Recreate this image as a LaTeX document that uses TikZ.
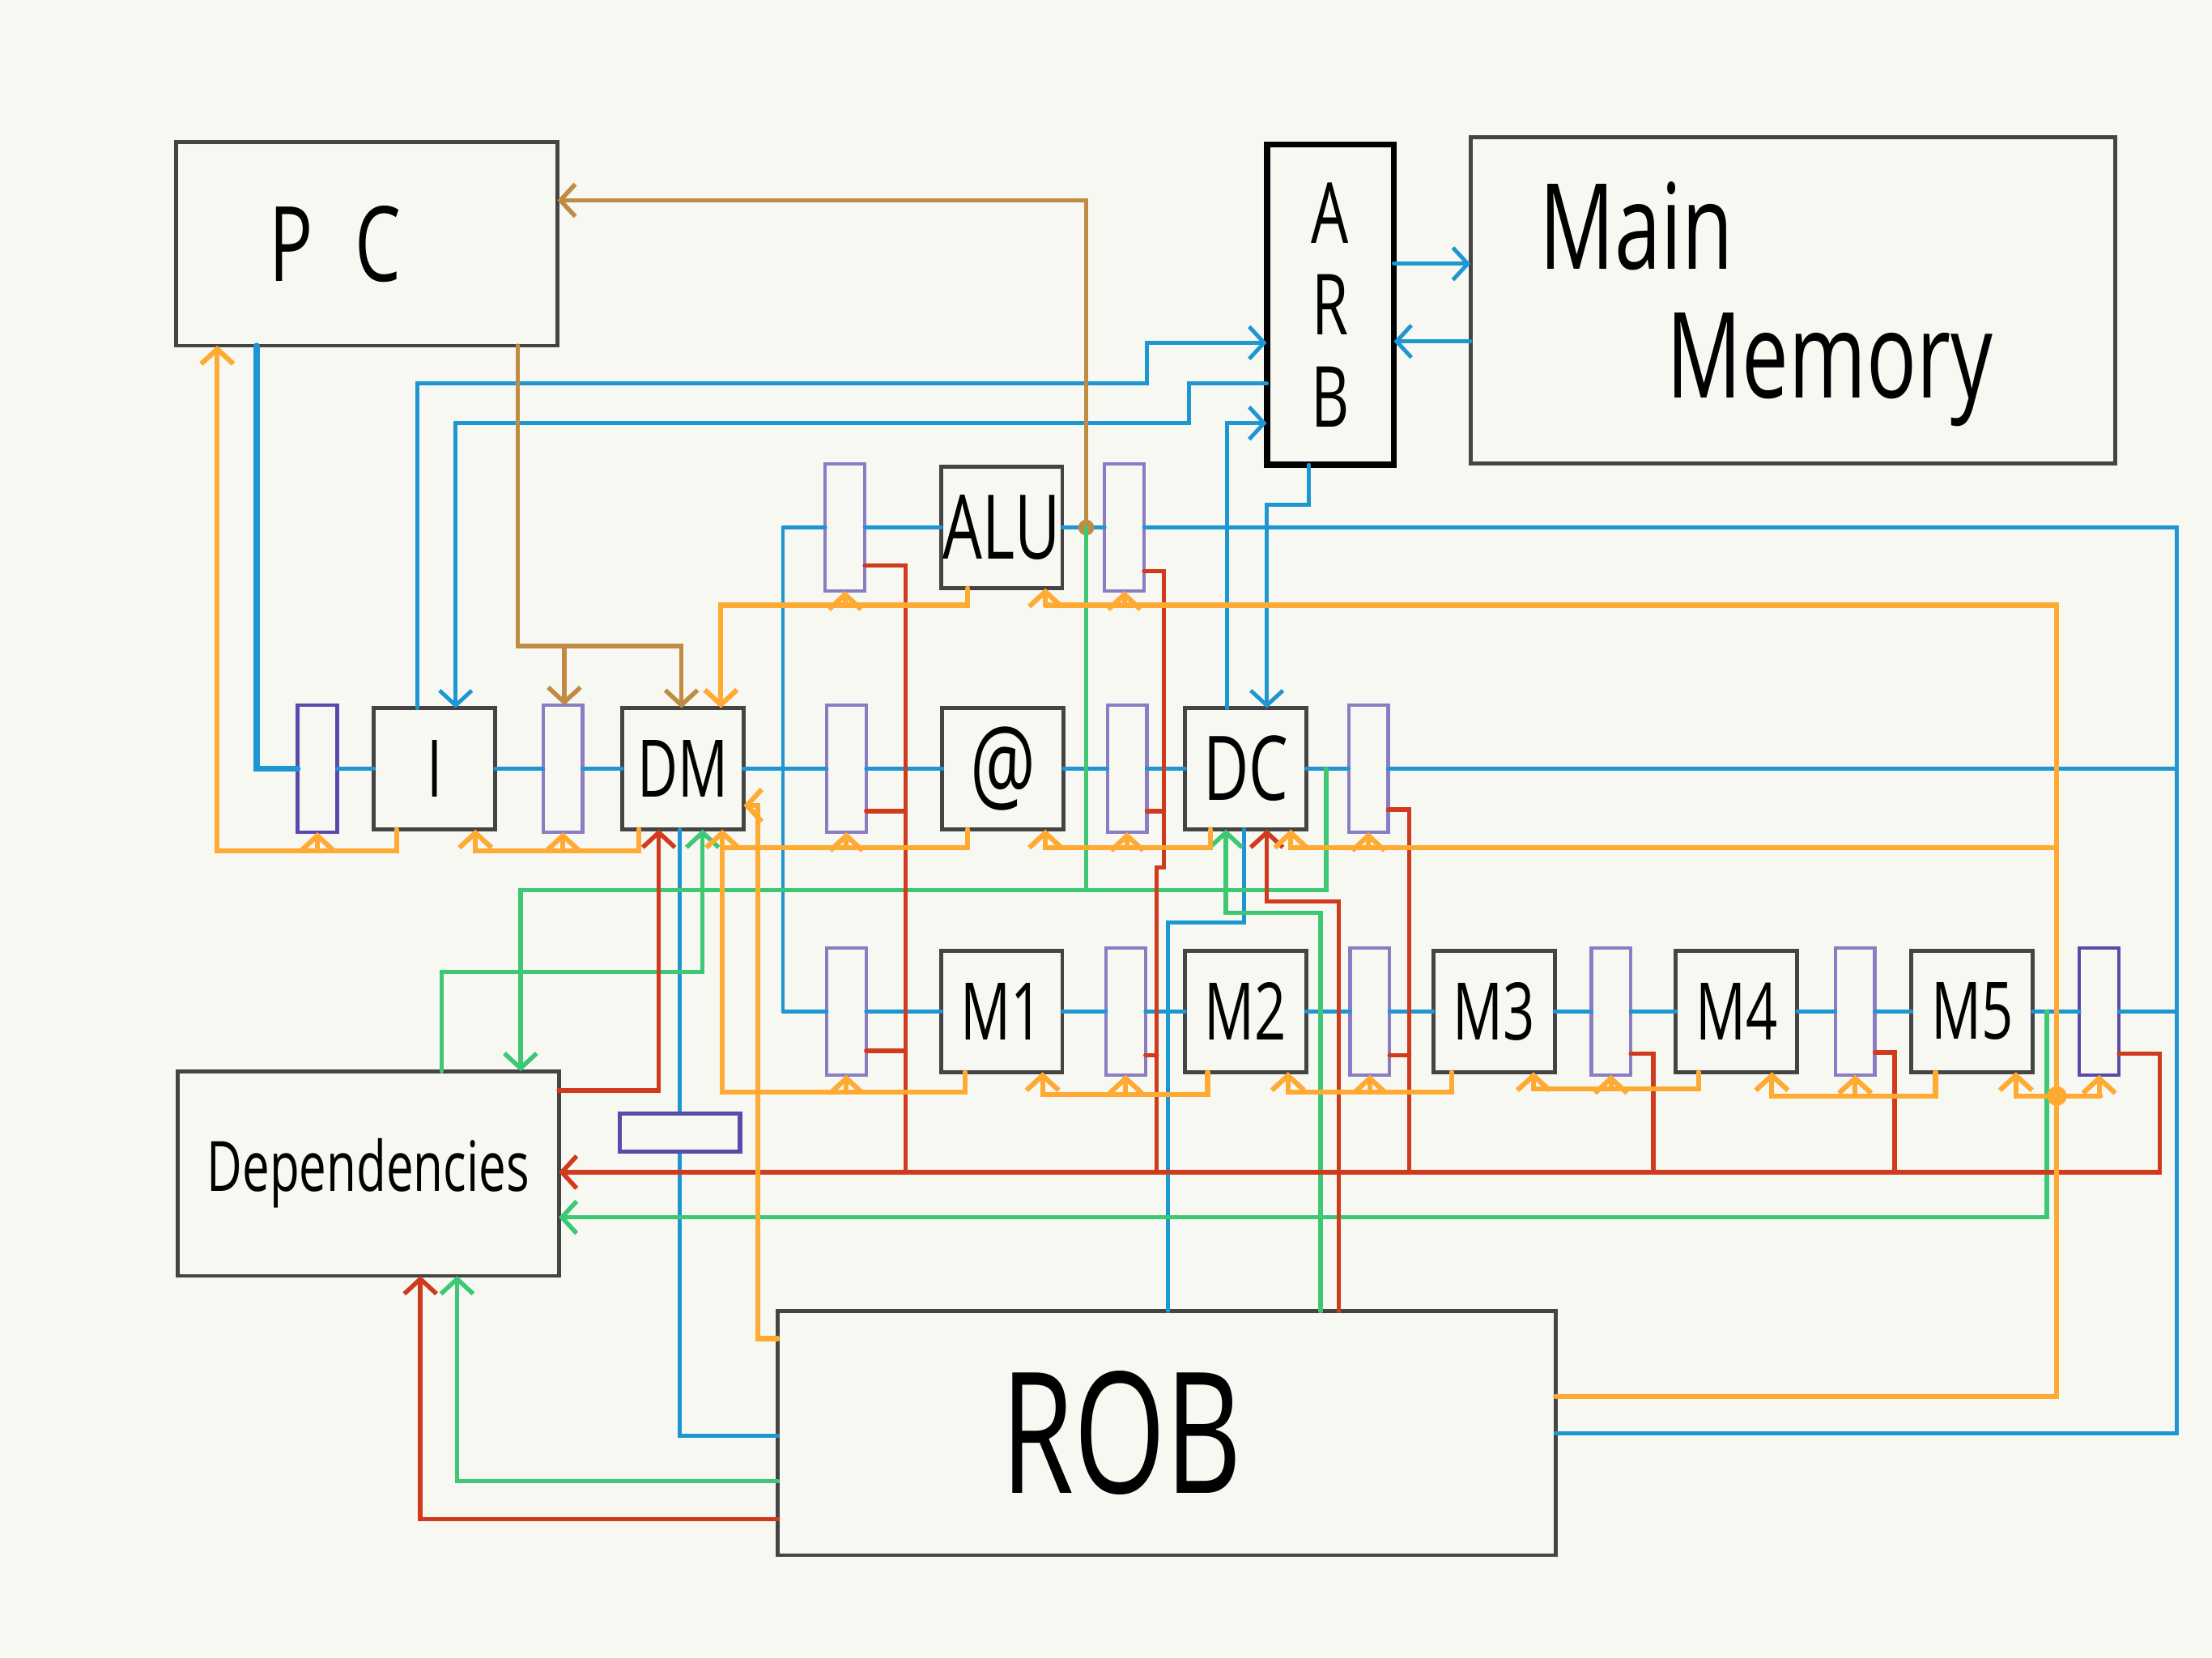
\documentclass[tikz,border=0pt]{standalone}
\usepackage{fontspec}
\setmainfont[FakeStretch=0.7]{Open Sans}
\usetikzlibrary{arrows.meta}
\definecolor{paper}{HTML}{F8F8F3}
\definecolor{wblue}{HTML}{1E96D2}
\definecolor{worange}{HTML}{FFAA33}
\definecolor{wred}{HTML}{CF3B1C}
\definecolor{wgreen}{HTML}{3EC874}
\definecolor{wbrown}{HTML}{C08C44}
\definecolor{regline}{HTML}{8C7CC4}
\definecolor{regdark}{HTML}{5A4AAA}
\definecolor{boxline}{HTML}{444444}
\tikzset{
  bigbox/.style={draw=boxline, line width=0.8pt, fill=paper, inner sep=0pt,
    outer sep=0pt},
  stage/.style={bigbox, minimum width=0.86cm, minimum height=0.86cm,
    font=\fontsize{16}{18}\selectfont},
  latch/.style={draw=regline, line width=0.7pt, fill=paper, inner sep=0pt,
    outer sep=0pt, minimum width=0.28cm, minimum height=0.9cm},
  bluew/.style={draw=wblue, line width=0.8pt, line cap=round},
  orangew/.style={draw=worange, line width=1pt, line cap=round},
  redw/.style={draw=wred, line width=0.9pt, line cap=round},
  greenw/.style={draw=wgreen, line width=0.9pt, line cap=round},
  brownw/.style={draw=wbrown, line width=0.9pt, line cap=round},
  arrowin/.style={-{Straight Barb[length=3pt,width=6.5pt]}}
}
\begin{document}
\begin{tikzpicture}[x=0.01cm, y=-0.01cm]
  \fill[paper] (0,0) rectangle (1568,1175);
  % big blocks
  \node[bigbox, minimum width=2.70cm, minimum height=1.44cm,
    font=\fontsize{21}{23}\selectfont] (pc) at (260,173)
    {\hspace*{-0.45cm}P\hspace{0.4em}C};
  \node[bigbox, draw=black, line width=1.3pt, minimum width=0.90cm,
    minimum height=2.27cm, align=center,
    font=\fontsize{17}{18.5}\selectfont] (arb) at (943,216) {A\\R\\B};
  \node[bigbox, minimum width=4.57cm, minimum height=2.31cm] (mem)
    at (1271,213) {};
  \node[font=\fontsize{24}{26}\selectfont] (mainlbl) at (1160,160) {Main};
  \node[font=\fontsize{24}{26}\selectfont] (memlbl) at (1297,262) {Memory};
  \node[bigbox, minimum width=2.70cm, minimum height=1.45cm,
    font=\fontsize{14}{16}\selectfont] (dep) at (261,832) {Dependencies};
  \node[bigbox, minimum width=5.51cm, minimum height=1.73cm,
    font=\fontsize{34}{36}\selectfont] (rob) at (827,1016)
    {\hspace*{-0.64cm}ROB};
  % front row
  \node[latch, draw=regdark] (r0) at (225,545) {};
  \node[stage] (ibox) at (308,545) {I};
  \node[latch] (r1) at (399,545) {};
  \node[stage] (dm) at (484,545) {DM};
  \node[latch] (r2) at (600,545) {};
  \node[stage, font=\fontsize{21}{23}\selectfont] (addr) at (711,545) {@};
  \node[latch] (r3) at (799,545) {};
  \node[stage, font=\fontsize{18}{20}\selectfont] (dc) at (883,545) {DC};
  \node[latch] (r4) at (970,545) {};
  % alu row
  \node[latch] (ra0) at (599,374) {};
  \node[stage, font=\fontsize{18}{20}\selectfont] (alu) at (710,374) {ALU};
  \node[latch] (ra1) at (797,374) {};
  % mul row
  \node[latch] (rm0) at (600,717) {};
  \node[stage] (m1) at (710,717) {M1};
  \node[latch] (rm1) at (798,717) {};
  \node[stage] (m2) at (883,717) {M2};
  \node[latch] (rm2) at (971,717) {};
  \node[stage] (m3) at (1059,717) {M3};
  \node[latch] (rm3) at (1142,717) {};
  \node[stage] (m4) at (1231,717) {M4};
  \node[latch] (rm4) at (1315,717) {};
  \node[stage] (m5) at (1398,717) {M5};
  \node[latch, draw=regdark] (rm5) at (1488,717) {};

  % data path
  \draw[bluew, line width=1.2pt] (pc.south -| 182,0) |- (r0.west);
  \foreach \a/\b in {r0/ibox, ibox/r1, r1/dm, dm/r2, r2/addr, addr/r3, r3/dc,
    dc/r4, ra0/alu, alu/ra1, rm0/m1, m1/rm1, rm1/m2, m2/rm2, rm2/m3, m3/rm3,
    rm3/m4, m4/rm4, rm4/m5, m5/rm5}
    \draw[bluew] (\a) -- (\b);
  \draw[bluew] (555,374) -- (555,717);
  \draw[bluew] (555,374) -- (ra0.west);
  \draw[bluew] (555,717) -- (rm0.west);
  \draw[bluew] (ra1.east) -- (1543,374) |- (rob.east |- 0,1016);
  \draw[bluew] (r4.east) -- (1543,545);
  \draw[bluew] (rm5.east) -- (1543,717);
  \draw[bluew, arrowin] (ibox.north -| 296,0) |- (813,272)
    |- (arb.west |- 0,243);
  \draw[bluew, arrowin] (arb.west |- 0,272) -- (843,272) |- (323,300)
    -- (ibox.north -| 323,0);
  \draw[bluew, arrowin] (dc.north -| 870,0) |- (arb.west |- 0,300);
  \draw[bluew, arrowin] (arb.south -| 928,0) |- (898,358)
    -- (dc.north -| 898,0);
  \draw[bluew, arrowin] (arb.east |- 0,187) -- (mem.west |- 0,187);
  \draw[bluew, arrowin] (mem.west |- 0,242) -- (arb.east |- 0,242);
  \draw[bluew] (dm.south -| 482,0) |- (rob.west |- 0,1018);
  \draw[bluew] (dc.south -| 882,0) |- (828,654) -- (rob.north -| 828,0);

  % branch target
  \draw[brownw, arrowin] (770,374) |- (pc.east |- 0,142);
  \draw[brownw, arrowin] (pc.south -| 367,0) |- (483,458)
    -- (dm.north -| 483,0);
  \draw[brownw, arrowin] (400,458) -- (r1.north -| 400,0);
  \fill[wbrown] (770,374) circle[radius=1.6pt];

  % wakeup
  \draw[greenw] (770,374) -- (770,631);
  \draw[greenw, arrowin] (940,545) |- (369,631) -- (dep.north -| 369,0);
  \draw[greenw, arrowin] (dep.north -| 313,0) |- (498,689)
    -- (dm.south -| 498,0);
  \draw[greenw, arrowin] (rob.north -| 936,0) |- (869,647)
    -- (dc.south -| 869,0);
  \draw[greenw, arrowin] (1451,717) |- (dep.east |- 0,863);
  \draw[greenw, arrowin] (rob.west |- 0,1050) -| (dep.south -| 324,0);

  % destination registers
  \draw[redw, arrowin] (dep.east |- 0,773) -| (dm.south -| 467,0);
  \draw[redw, arrowin] (rm5.east |- 0,747) -| (1531,831)
    -- (dep.east |- 0,831);
  \draw[redw] (ra0.east |- 0,401) -| (642,831);
  \draw[redw] (r2.east |- 0,575) -- (642,575);
  \draw[redw] (rm0.east |- 0,745) -- (642,745);
  \draw[redw] (ra1.east |- 0,405) -| (825,615) -| (820,831);
  \draw[redw] (r3.east |- 0,575) -- (825,575);
  \draw[redw] (rm1.east |- 0,748) -- (820,748);
  \draw[redw] (r4.east |- 0,574) -| (999,831);
  \draw[redw] (rm2.east |- 0,748) -- (999,748);
  \draw[redw] (rm3.east |- 0,747) -| (1172,831);
  \draw[redw] (rm4.east |- 0,746) -| (1343,831);
  \draw[redw, arrowin] (rob.north -| 949,0) |- (898,639)
    -- (dc.south -| 898,0);
  \draw[redw, arrowin] (rob.west |- 0,1077) -| (dep.south -| 298,0);

  % stalls
  \draw[orangew, arrowin] (ibox.south -| 281,0) |- (154,603)
    -- (pc.south -| 154,0);
  \draw[orangew, arrowin] (dm.south -| 453,0) |- (337,603)
    -- (ibox.south -| 337,0);
  \draw[orangew, arrowin] (alu.south -| 686,0) |- (511,429)
    -- (dm.north -| 511,0);
  \draw[orangew, arrowin] (addr.south -| 686,0) |- (512,601)
    -- (dm.south -| 512,0);
  \draw[orangew] (m1.south -| 684,0) |- (512,774) -- (512,601);
  \draw[orangew, arrowin] (dc.south -| 858,0) |- (741,601)
    -- (addr.south -| 741,0);
  \draw[orangew, arrowin] (m2.south -| 856,0) |- (739,776)
    -- (m1.south -| 739,0);
  \draw[orangew, arrowin] (m3.south -| 1029,0) |- (913,774)
    -- (m2.south -| 913,0);
  \draw[orangew, arrowin] (m4.south -| 1204,0) |- (1087,772)
    -- (m3.south -| 1087,0);
  \draw[orangew, arrowin] (m5.south -| 1372,0) |- (1256,777)
    -- (m4.south -| 1256,0);
  \draw[orangew] (rob.east |- 0,990) -| (1458,429) -- (741,429);
  \draw[orangew, arrowin] (741,429) -- (alu.south -| 741,0);
  \draw[orangew, arrowin] (1458,601) -- (915,601) -- (dc.south -| 915,0);
  \draw[orangew, arrowin] (1458,777) -- (1429,777) -- (m5.south -| 1429,0);
  \draw[orangew] (1458,777) -- (1489,777);
  \fill[worange] (1458,777) circle[radius=2pt];
  \foreach \r/\y in {r0/603, r1/603, ra0/429, r2/601, rm0/774, r3/601,
    ra1/429, r4/601, rm1/776, rm2/774, rm3/772, rm4/777, rm5/777}
    \draw[orangew, arrowin] (\r.south |- 0,\y) -- (\r.south);
  \draw[orangew, arrowin] (rob.west |- 0,949) -| (537,571)
    -- (dm.east |- 0,571);

  \node[latch, draw=regdark, line width=0.9pt, minimum width=0.85cm,
    minimum height=0.27cm] (buf) at (482,803) {};
\end{tikzpicture}
\end{document}
